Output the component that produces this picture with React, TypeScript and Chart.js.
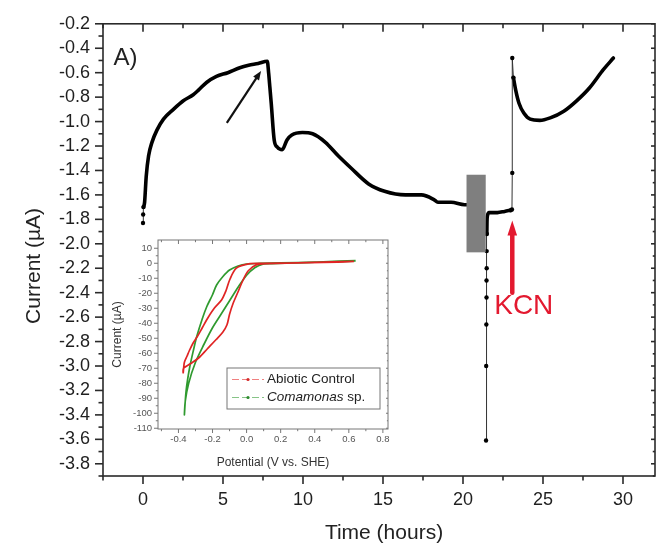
import React, { useEffect, useRef } from 'react';
import { Chart, registerables } from 'chart.js';
Chart.register(...registerables);

const FONT = 'Arial, "Liberation Sans", Helvetica, sans-serif';

// ---------- main panel data (time in hours, current in µA) ----------
const startTime = [0.0, 0.01, 0.03];
const startCurrent = [-1.83, -1.76, -1.7];

const phase1Time = [0.03, 0.1, 0.2, 0.35, 0.56, 0.87, 1.28, 1.9, 2.52, 3.14, 3.45, 3.97, 4.59, 5.3, 6.05, 6.6, 7.2, 7.77, 7.85, 7.93, 8.02, 8.2, 8.4, 8.7, 9.0, 9.3, 9.96, 10.6, 11.4, 12.2, 13.0, 14.1, 15.1, 16.4, 17.4, 18.2, 18.43, 19.26, 20.1, 20.4];
const phase1Current = [-1.7, -1.66, -1.45, -1.28, -1.17, -1.07, -0.98, -0.9, -0.83, -0.78, -0.745, -0.68, -0.63, -0.6, -0.56, -0.54, -0.525, -0.507, -0.6, -0.72, -0.86, -1.15, -1.21, -1.23, -1.15, -1.11, -1.09, -1.1, -1.17, -1.28, -1.38, -1.51, -1.57, -1.6, -1.6, -1.64, -1.66, -1.66, -1.68, -1.68];

const dipTime = [21.44, 21.45, 21.46, 21.47, 21.47, 21.48, 21.48, 21.49];
const dipCurrent = [-3.61, -3.0, -2.66, -2.44, -2.3, -2.2, -2.06, -1.92];

const phase2Time = [21.49, 21.5, 21.53, 21.63, 22.15, 22.6, 22.98];
const phase2Current = [-1.92, -1.82, -1.77, -1.745, -1.745, -1.735, -1.725];

const kcnTime = [22.98, 23.06, 23.08, 23.08, 23.15];
const kcnCurrent = [-1.725, -1.72, -1.42, -0.48, -0.64];

const phase3Time = [23.15, 23.29, 23.5, 23.8, 24.2, 24.8, 25.45, 26.3, 27.1, 27.9, 28.77, 29.4];
const phase3Current = [-0.64, -0.74, -0.85, -0.93, -0.98, -0.99, -0.97, -0.915, -0.83, -0.725, -0.575, -0.48];

const xTicks = [0, 5, 10, 15, 20, 25, 30];
const xMinorTicks = [-2.5, 2.5, 7.5, 12.5, 17.5, 22.5, 27.5];
const yTicks = [-3.8, -3.6, -3.4, -3.2, -3.0, -2.8, -2.6, -2.4, -2.2, -2.0, -1.8, -1.6, -1.4, -1.2, -1.0, -0.8, -0.6, -0.4, -0.2];
const yMinorTicks = [-3.9, -3.7, -3.5, -3.3, -3.1, -2.9, -2.7, -2.5, -2.3, -2.1, -1.9, -1.7, -1.5, -1.3, -1.1, -0.9, -0.7, -0.5, -0.3];

// annotations (data units)
const grayBoxTime = [20.22, 21.42];
const grayBoxCurrent = [-1.435, -2.07];
const blackArrowTime = [5.24, 7.38];
const blackArrowCurrent = [-1.01, -0.586];
const redArrowTime = [23.08, 23.08];
const redArrowCurrent = [-2.4, -1.81];
const kcnLabel = { text: 'KCN', time: 21.95, current: -2.576 };
const panelLabel = { text: 'A)', time: -1.84, current: -0.537 };

// ---------- inset data (potential V vs SHE, current µA) ----------
const redPotential = [0.62, 0.45, 0.3, 0.12, 0.057, 0.01, -0.02, -0.05, -0.08, -0.1, -0.115, -0.14, -0.18, -0.23, -0.28, -0.33, -0.37, -0.372, -0.365, -0.35, -0.335, -0.313, -0.29, -0.26, -0.225, -0.19, -0.147, -0.12, -0.099, -0.06, 0.02, 0.1, 0.3, 0.5, 0.63];
const redCurrent = [1.0, 0.6, 0.2, -0.2, -1.1, -5, -11, -19, -27, -34, -41, -46, -51, -57, -63, -67, -70, -73, -66, -62, -58, -53, -49, -43, -36, -30, -24.5, -18, -11, -3.3, -0.3, 0, 0.3, 0.9, 1.2];

const greenPotential = [0.64, 0.45, 0.3, 0.15, 0.1, 0.05, 0.0, -0.05, -0.1, -0.15, -0.2, -0.25, -0.3, -0.34, -0.36, -0.365, -0.355, -0.335, -0.31, -0.293, -0.26, -0.234, -0.2, -0.176, -0.14, -0.1, -0.05, 0.0, 0.08, 0.2, 0.4, 0.64];
const greenCurrent = [1.8, 1.0, 0.3, -0.2, -0.5, -2.8, -8, -16, -25, -34, -43, -54, -66, -80, -92, -101, -85, -70, -57, -49, -37, -29, -21, -14.5, -9, -4.5, -1.8, -0.5, -0.1, 0.2, 0.8, 1.4];

const insetXTicks = [-0.4, -0.2, 0.0, 0.2, 0.4, 0.6, 0.8];
const insetXMinor = [-0.5, -0.3, -0.1, 0.1, 0.3, 0.5, 0.7];
const insetYTicks = [10, 0, -10, -20, -30, -40, -50, -60, -70, -80, -90, -100, -110];
const insetYMinor = [5, -5, -15, -25, -35, -45, -55, -65, -75, -85, -95, -105];
const legendItems = ['Abiotic Control', 'Comamonas sp.'];

const pts = (xs: number[], ys: number[]) => xs.map((x, i) => ({ x, y: ys[i] }));

function drawFrameTicks(chart: any, o: any) {
  const ctx = chart.ctx;
  const { left, right, top, bottom } = chart.chartArea;
  const xs = chart.scales.x;
  const ys = chart.scales.y;
  ctx.save();
  ctx.strokeStyle = o.color;
  ctx.lineWidth = o.lineWidth;
  ctx.strokeRect(left, top, right - left, bottom - top);
  const tick = (x1: number, y1: number, x2: number, y2: number) => {
    ctx.beginPath();
    ctx.moveTo(x1, y1);
    ctx.lineTo(x2, y2);
    ctx.stroke();
  };
  const doX = (vals: number[], len: number) => {
    vals.forEach((v) => {
      const p = xs.getPixelForValue(v);
      if (p < left - 0.5 || p > right + 0.5) return;
      tick(p, bottom, p, bottom + len);
      tick(p, top, p, top + len);
    });
  };
  const doY = (vals: number[], len: number) => {
    vals.forEach((v) => {
      const p = ys.getPixelForValue(v);
      if (p < top - 0.5 || p > bottom + 0.5) return;
      tick(left - len, p, left, p);
      tick(right - len * 0.5, p, right, p);
    });
  };
  doX(o.xMajor, o.majorLen);
  doX(o.xMinor, o.minorLen);
  doY(o.yMajor, o.majorLen);
  doY(o.yMinor, o.minorLen);
  ctx.restore();
}

const mainPlugin = {
  id: 'mainDecor',
  afterDatasetsDraw(chart: any) {
    const ctx = chart.ctx;
    const xs = chart.scales.x;
    const ys = chart.scales.y;
    const x1 = xs.getPixelForValue(grayBoxTime[0]);
    const x2 = xs.getPixelForValue(grayBoxTime[1]);
    const y1 = ys.getPixelForValue(grayBoxCurrent[0]);
    const y2 = ys.getPixelForValue(grayBoxCurrent[1]);
    ctx.save();
    ctx.fillStyle = '#7f7f7f';
    ctx.fillRect(x1, y1, x2 - x1, y2 - y1);
    ctx.restore();
  },
  afterDraw(chart: any) {
    const ctx = chart.ctx;
    const xs = chart.scales.x;
    const ys = chart.scales.y;
    drawFrameTicks(chart, {
      color: '#2a2a2a', lineWidth: 1.6, majorLen: 8, minorLen: 4.5,
      xMajor: xTicks, xMinor: xMinorTicks, yMajor: yTicks, yMinor: yMinorTicks,
    });
    ctx.save();
    // black arrow
    const ax1 = xs.getPixelForValue(blackArrowTime[0]);
    const ay1 = ys.getPixelForValue(blackArrowCurrent[0]);
    const ax2 = xs.getPixelForValue(blackArrowTime[1]);
    const ay2 = ys.getPixelForValue(blackArrowCurrent[1]);
    const ang = Math.atan2(ay2 - ay1, ax2 - ax1);
    ctx.strokeStyle = '#111';
    ctx.fillStyle = '#111';
    ctx.lineWidth = 2.2;
    ctx.beginPath();
    ctx.moveTo(ax1, ay1);
    ctx.lineTo(ax2 - 5 * Math.cos(ang), ay2 - 5 * Math.sin(ang));
    ctx.stroke();
    ctx.beginPath();
    ctx.moveTo(ax2, ay2);
    ctx.lineTo(ax2 - 9 * Math.cos(ang) + 3.5 * Math.sin(ang), ay2 - 9 * Math.sin(ang) - 3.5 * Math.cos(ang));
    ctx.lineTo(ax2 - 9 * Math.cos(ang) - 3.5 * Math.sin(ang), ay2 - 9 * Math.sin(ang) + 3.5 * Math.cos(ang));
    ctx.closePath();
    ctx.fill();
    // red arrow
    const rx = xs.getPixelForValue(redArrowTime[0]);
    const ry1 = ys.getPixelForValue(redArrowCurrent[0]);
    const ry2 = ys.getPixelForValue(redArrowCurrent[1]);
    ctx.strokeStyle = '#e3192f';
    ctx.fillStyle = '#e3192f';
    ctx.lineWidth = 4.5;
    ctx.lineCap = 'round';
    ctx.beginPath();
    ctx.moveTo(rx, ry1);
    ctx.lineTo(rx, ry2 + 10);
    ctx.stroke();
    ctx.beginPath();
    ctx.moveTo(rx, ry2);
    ctx.lineTo(rx - 4.8, ry2 + 15);
    ctx.lineTo(rx + 4.8, ry2 + 15);
    ctx.closePath();
    ctx.fill();
    // KCN label
    ctx.font = `28px ${FONT}`;
    ctx.textAlign = 'left';
    ctx.textBaseline = 'alphabetic';
    ctx.fillText(kcnLabel.text, xs.getPixelForValue(kcnLabel.time), ys.getPixelForValue(kcnLabel.current));
    // panel label
    ctx.fillStyle = '#222';
    ctx.font = `24px ${FONT}`;
    ctx.fillText(panelLabel.text, xs.getPixelForValue(panelLabel.time), ys.getPixelForValue(panelLabel.current));
    // axis titles
    ctx.font = `21px ${FONT}`;
    ctx.textAlign = 'center';
    ctx.textBaseline = 'middle';
    ctx.fillText('Time (hours)', (chart.chartArea.left + chart.chartArea.right) / 2 + 5, 533);
    ctx.translate(34, (chart.chartArea.top + chart.chartArea.bottom) / 2 + 16);
    ctx.rotate(-Math.PI / 2);
    ctx.fillText('Current (\u00b5A)', 0, 0);
    ctx.restore();
  },
};

const insetPlugin = {
  id: 'insetDecor',
  beforeDatasetsDraw(chart: any) {
    const ctx = chart.ctx;
    const { left, right, top, bottom } = chart.chartArea;
    ctx.save();
    ctx.fillStyle = '#fff';
    ctx.fillRect(left, top, right - left, bottom - top);
    ctx.restore();
  },
  afterDraw(chart: any) {
    const ctx = chart.ctx;
    drawFrameTicks(chart, {
      color: '#777', lineWidth: 1, majorLen: 4, minorLen: 2.2,
      xMajor: insetXTicks, xMinor: insetXMinor, yMajor: insetYTicks, yMinor: insetYMinor,
    });
    ctx.save();
    // legend
    const bx = 121, by = 140, bw = 153, bh = 41;
    ctx.fillStyle = '#fff';
    ctx.fillRect(bx, by, bw, bh);
    ctx.strokeStyle = '#777';
    ctx.lineWidth = 1;
    ctx.strokeRect(bx, by, bw, bh);
    const colors = [['#f08080', '#d42a2a'], ['#86c486', '#2e8b2e']];
    const rows = [by + 11.5, by + 29.5];
    rows.forEach((ry, i) => {
      ctx.strokeStyle = colors[i][0];
      ctx.lineWidth = 1.2;
      ctx.setLineDash([7, 3]);
      ctx.beginPath();
      ctx.moveTo(bx + 5, ry);
      ctx.lineTo(bx + 37, ry);
      ctx.stroke();
      ctx.setLineDash([]);
      ctx.fillStyle = colors[i][1];
      ctx.beginPath();
      ctx.arc(bx + 21, ry, 1.6, 0, Math.PI * 2);
      ctx.fill();
    });
    ctx.fillStyle = '#222';
    ctx.textAlign = 'left';
    ctx.textBaseline = 'middle';
    ctx.font = `13.5px ${FONT}`;
    ctx.fillText(legendItems[0], bx + 40, rows[0]);
    const [genus, rest] = legendItems[1].split(' ');
    ctx.font = `italic 13.5px ${FONT}`;
    ctx.fillText(genus, bx + 40, rows[1]);
    const w = ctx.measureText(genus).width;
    ctx.font = `13.5px ${FONT}`;
    ctx.fillText(' ' + rest, bx + 40 + w, rows[1]);
    // axis titles
    ctx.fillStyle = '#333';
    ctx.font = `12px ${FONT}`;
    ctx.textAlign = 'center';
    ctx.fillText('Potential (V vs. SHE)', (chart.chartArea.left + chart.chartArea.right) / 2, 235);
    ctx.translate(12, (chart.chartArea.top + chart.chartArea.bottom) / 2);
    ctx.rotate(-Math.PI / 2);
    ctx.fillText('Current (\u00b5A)', 0, 0);
    ctx.restore();
  },
};

export default function App() {
  const mainRef = useRef<HTMLCanvasElement>(null);
  const insetRef = useRef<HTMLCanvasElement>(null);

  useEffect(() => {
    const thick = (d: any[]) => ({
      data: d, showLine: true, borderColor: '#000', borderWidth: 3.6, pointRadius: 0,
      cubicInterpolationMode: 'monotone', borderJoinStyle: 'round', borderCapStyle: 'round',
    });
    const thin = (d: any[]) => ({
      data: d, showLine: true, borderColor: '#333', borderWidth: 1, pointRadius: 2.2,
      pointBackgroundColor: '#000', pointBorderWidth: 0,
    });
    const main = new Chart(mainRef.current!, {
      type: 'scatter',
      data: {
        datasets: [
          thin(pts(startTime, startCurrent)),
          thick(pts(phase1Time, phase1Current)),
          thin(pts(dipTime, dipCurrent)),
          thick(pts(phase2Time, phase2Current)),
          thin(pts(kcnTime, kcnCurrent)),
          thick(pts(phase3Time, phase3Current)),
        ] as any,
      },
      options: {
        responsive: false,
        animation: false,
        devicePixelRatio: 1,
        layout: { padding: { left: 0, right: 1, top: 21, bottom: 0 } },
        plugins: { legend: { display: false }, tooltip: { enabled: false } },
        scales: {
          x: {
            type: 'linear', min: -2.5, max: 32,
            afterFit: (s: any) => { s.height = 69; },
            afterBuildTicks: (s: any) => { s.ticks = xTicks.map((v) => ({ value: v })); },
            grid: { display: false, drawTicks: false },
            border: { display: false },
            ticks: { padding: 13, autoSkip: false, maxRotation: 0, color: '#1f1f1f', font: { family: FONT, size: 18 }, callback: (v: any) => String(v) },
          },
          y: {
            type: 'linear', min: -3.9, max: -0.2,
            afterFit: (s: any) => { s.width = 103; },
            afterBuildTicks: (s: any) => { s.ticks = yTicks.map((v) => ({ value: v })); },
            grid: { display: false, drawTicks: false },
            border: { display: false },
            ticks: { padding: 13, autoSkip: false, color: '#1f1f1f', font: { family: FONT, size: 18 }, callback: (v: any) => Number(v).toFixed(1) },
          },
        },
      } as any,
      plugins: [mainPlugin],
    });

    const inset = new Chart(insetRef.current!, {
      type: 'scatter',
      data: {
        datasets: [
          { data: pts(redPotential, redCurrent), showLine: true, borderColor: '#e02424', borderWidth: 1.7, pointRadius: 0, tension: 0.3 },
          { data: pts(greenPotential, greenCurrent), showLine: true, borderColor: '#2f9a2f', borderWidth: 1.7, pointRadius: 0, tension: 0.3 },
        ] as any,
      },
      options: {
        responsive: false,
        animation: false,
        devicePixelRatio: 1,
        layout: { padding: { left: 0, right: 8, top: 12, bottom: 0 } },
        plugins: { legend: { display: false }, tooltip: { enabled: false } },
        scales: {
          x: {
            type: 'linear', min: -0.52, max: 0.83,
            afterFit: (s: any) => { s.height = 49; },
            afterBuildTicks: (s: any) => { s.ticks = insetXTicks.map((v) => ({ value: v })); },
            grid: { display: false, drawTicks: false },
            border: { display: false },
            ticks: { padding: 5, autoSkip: false, maxRotation: 0, color: '#555', font: { family: FONT, size: 9.5 }, callback: (v: any) => Number(v).toFixed(1) },
          },
          y: {
            type: 'linear', min: -110.5, max: 15.5,
            afterFit: (s: any) => { s.width = 52; },
            afterBuildTicks: (s: any) => { s.ticks = insetYTicks.map((v) => ({ value: v })); },
            grid: { display: false, drawTicks: false },
            border: { display: false },
            ticks: { padding: 6, autoSkip: false, color: '#555', font: { family: FONT, size: 9.5 }, callback: (v: any) => String(v) },
          },
        },
      } as any,
      plugins: [insetPlugin],
    });

    return () => {
      main.destroy();
      inset.destroy();
    };
  }, []);

  return (
    <div style={{ position: 'fixed', left: 0, top: 0, width: 659, height: 545, background: '#fff' }}>
      <canvas ref={mainRef} width={659} height={545} style={{ position: 'absolute', left: 0, top: 0 }} />
      <canvas ref={insetRef} width={290} height={250} style={{ position: 'absolute', left: 106, top: 228 }} />
    </div>
  );
}
